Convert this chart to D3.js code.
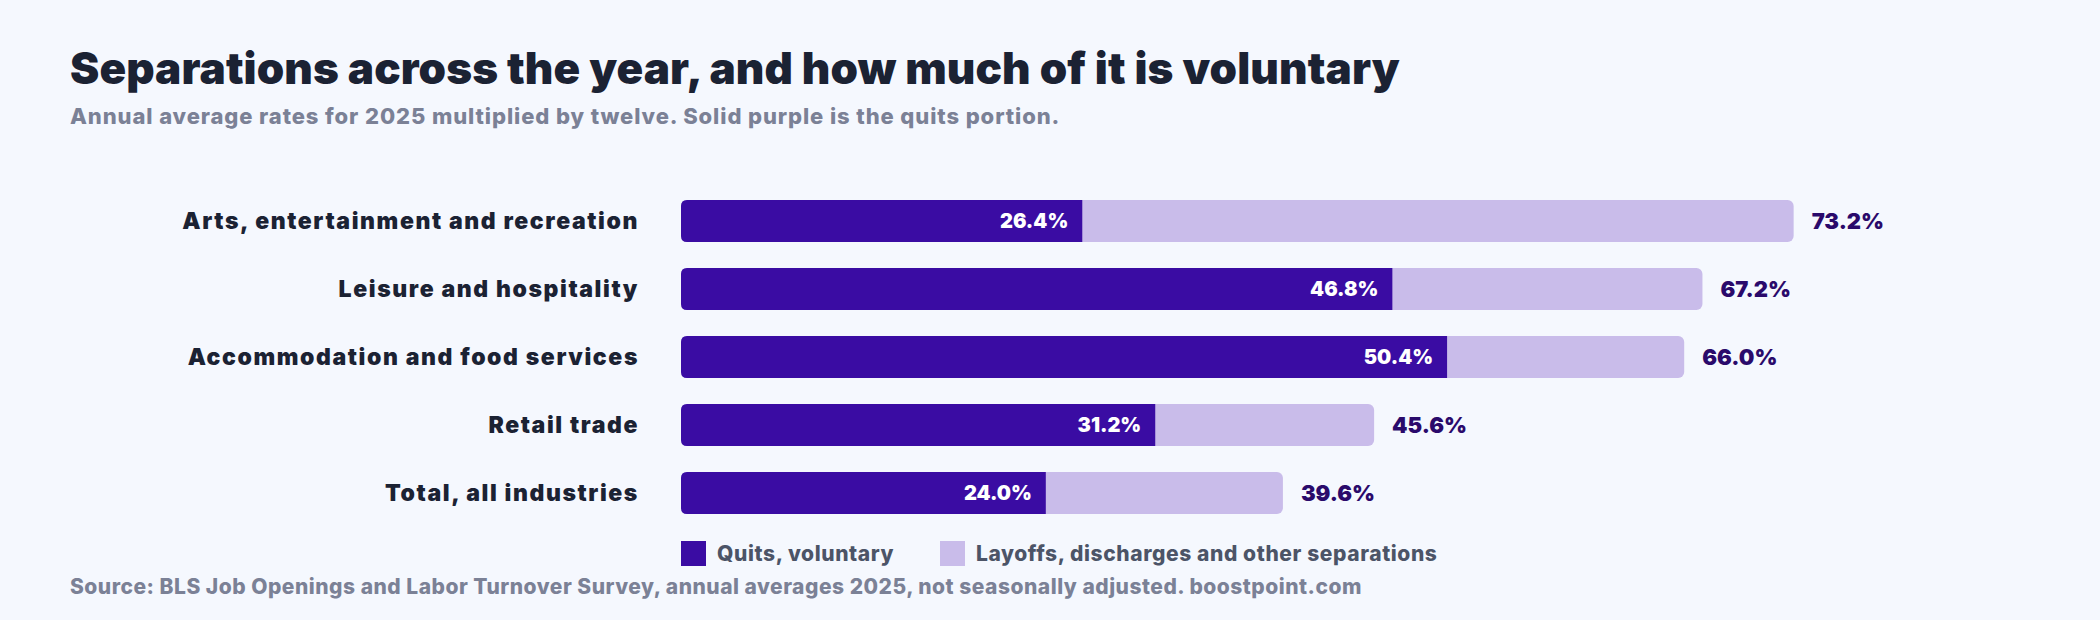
<!DOCTYPE html>
<html><head><meta charset="utf-8">
<script src="https://cdn.jsdelivr.net/npm/d3@7"></script>
<style>body{margin:0;background:#f5f8fe}svg{font-family:Inter,"Open Sans",sans-serif}</style>
</head><body><svg width="2100" height="620"></svg>
<script>
const categories = ['Arts, entertainment and recreation','Leisure and hospitality','Accommodation and food services','Retail trade','Total, all industries'];
const quits = [26.4, 46.8, 50.4, 31.2, 24.0];
const totals = [73.2, 67.2, 66.0, 45.6, 39.6];
const legendLabels = ['Quits, voluntary','Layoffs, discharges and other separations'];

const svg = d3.select('svg');
const dark = '#3a0ca3', light = '#c9bcea';

svg.append('text').attr('x', 70).attr('y', 84).attr('fill', '#1b2233')
  .style('font-size', '44px').style('font-weight', 900).style('letter-spacing', '0.1px')
  .text('Separations across the year, and how much of it is voluntary');
svg.append('text').attr('x', 70).attr('y', 124).attr('fill', '#7b8196')
  .style('font-size', '22px').style('font-weight', 800).style('letter-spacing', '0.9px')
  .text('Annual average rates for 2025 multiplied by twelve. Solid purple is the quits portion.');

const x = d3.scaleLinear().domain([0, 10]).range([681, 833]);
const y = d3.scaleBand().domain(categories).range([187, 527]).paddingInner(0.38).paddingOuter(0.19);

const rows = svg.selectAll('g.row').data(categories).enter().append('g').attr('class', 'row');
rows.append('rect').attr('x', x(0)).attr('y', d => y(d)).attr('height', y.bandwidth())
  .attr('width', (d, i) => x(totals[i]) - x(0)).attr('rx', 6).attr('fill', light);
// quits part: rounded left only
rows.append('path').attr('fill', dark).attr('d', (d, i) => {
  const x0 = x(0), x1 = x(quits[i]), y0 = y(d), h = y.bandwidth(), r = 6;
  return `M${x1},${y0}H${x0+r}Q${x0},${y0} ${x0},${y0+r}V${y0+h-r}Q${x0},${y0+h} ${x0+r},${y0+h}H${x1}Z`;
});
rows.append('text').attr('x', 639).attr('y', d => y(d) + y.bandwidth() / 2).attr('dy', '0.35em')
  .attr('text-anchor', 'end').attr('fill', '#1b2233').style('font-size', '23px').style('font-weight', 900)
  .style('letter-spacing', '1.6px').text(d => d);
rows.append('text').attr('x', (d, i) => x(quits[i]) - 14).attr('y', d => y(d) + y.bandwidth() / 2).attr('dy', '0.35em')
  .attr('text-anchor', 'end').attr('fill', '#fff').style('font-size', '20px').style('font-weight', 900)
  .text((d, i) => quits[i].toFixed(1) + '%');
rows.append('text').attr('x', (d, i) => x(totals[i]) + 18).attr('y', d => y(d) + y.bandwidth() / 2).attr('dy', '0.35em')
  .attr('fill', '#2a0a6b').style('font-size', '22px').style('font-weight', 900)
  .text((d, i) => totals[i].toFixed(1) + '%');

const lx = [681, 940];
const leg = svg.selectAll('g.leg').data(legendLabels).enter().append('g')
  .attr('transform', (d, i) => `translate(${lx[i]},541)`);
leg.append('rect').attr('width', 25).attr('height', 25).attr('fill', (d, i) => i ? light : dark);
leg.append('text').attr('x', 36).attr('y', 13).attr('dy', '0.35em').attr('fill', '#4c5467')
  .style('font-size', '21px').style('font-weight', 800).style('letter-spacing', '0.6px').text(d => d);

svg.append('text').attr('x', 70).attr('y', 594).attr('fill', '#7b8196')
  .style('font-size', '21px').style('font-weight', 800).style('letter-spacing', '0.5px')
  .text('Source: BLS Job Openings and Labor Turnover Survey, annual averages 2025, not seasonally adjusted. boostpoint.com');
</script></body></html>
